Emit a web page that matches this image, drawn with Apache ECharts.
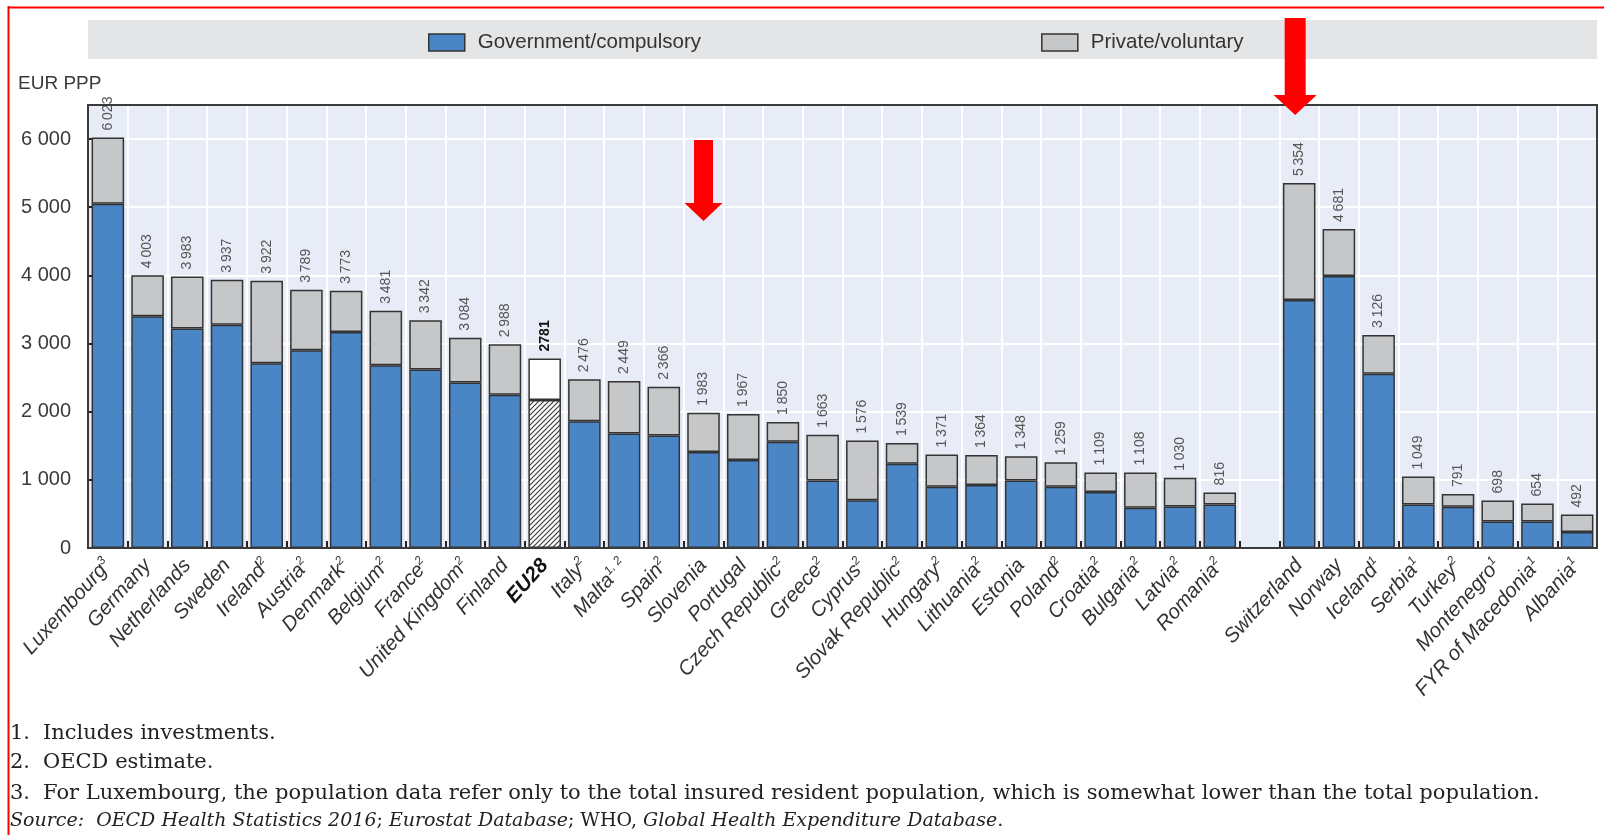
<!DOCTYPE html>
<html>
<head>
<meta charset="utf-8">
<script src="https://cdn.jsdelivr.net/npm/echarts@6/dist/echarts.min.js"></script>
<style>
  html, body { margin: 0; padding: 0; background: #ffffff; }
  #chart { width: 1604px; height: 835px; }
</style>
</head>
<body>
<div id="chart"></div>
<script>
// Countries in display order; the empty entry separates EU members from the others.
const countries = [
  'Luxembourg', 'Germany', 'Netherlands', 'Sweden', 'Ireland', 'Austria', 'Denmark',
  'Belgium', 'France', 'United Kingdom', 'Finland', 'EU28', 'Italy', 'Malta', 'Spain',
  'Slovenia', 'Portugal', 'Czech Republic', 'Greece', 'Cyprus', 'Slovak Republic',
  'Hungary', 'Lithuania', 'Estonia', 'Poland', 'Croatia', 'Bulgaria', 'Latvia', 'Romania',
  '',
  'Switzerland', 'Norway', 'Iceland', 'Serbia', 'Turkey', 'Montenegro',
  'FYR of Macedonia', 'Albania'
];

// Footnote markers attached to each country name.
const notes = [
  '3', '', '', '', '2', '2', '2',
  '2', '2', '2', '', '', '2', '1, 2', '2',
  '', '', '2', '2', '2', '2',
  '2', '2', '', '2', '2', '2', '2', '2',
  '',
  '', '', '1', '1', '2', '1',
  '1', '1'
];

// Total health spending per capita (EUR PPP).
const totalSpending = [
  6023, 4003, 3983, 3937, 3922, 3789, 3773,
  3481, 3342, 3084, 2988, 2781, 2476, 2449, 2366,
  1983, 1967, 1850, 1663, 1576, 1539,
  1371, 1364, 1348, 1259, 1109, 1108, 1030, 816,
  null,
  5354, 4681, 3126, 1049, 791, 698,
  654, 492
];

// Government / compulsory part of the spending.
const governmentSpending = [
  5050, 3400, 3220, 3275, 2710, 2900, 3170,
  2680, 2620, 2430, 2250, 2170, 1860, 1680, 1650,
  1410, 1290, 1560, 990, 700, 1235,
  900, 925, 990, 900, 820, 590, 610, 640,
  null,
  3640, 3990, 2555, 640, 605, 390,
  390, 235
];

const seriesNames = ['Government/compulsory', 'Private/voluntary'];
const yMin = 0, yMax = 6500, yStep = 1000;
const averageLabel = 'EU28';

const footnotes = [
  ['1.', 'Includes investments.'],
  ['2.', 'OECD estimate.'],
  ['3.', 'For Luxembourg, the population data refer only to the total insured resident population, which is somewhat lower than the total population.']
];

const SANS = 'Liberation Sans, Arial, sans-serif';
const SERIF = 'DejaVu Serif, serif';

// Plot area
const PLOT = { left: 88, top: 105, width: 1509, height: 443 };

function thousands(n) {
  if (n == null) return '';
  if (n < 1000) return String(n);
  return Math.floor(n / 1000) + '\u2009' + String(n % 1000).padStart(3, '0');
}

// Diagonal hatching used for the EU average bar.
function makeHatch() {
  const s = 5;
  const c = document.createElement('canvas');
  c.width = s; c.height = s;
  const g = c.getContext('2d');
  g.fillStyle = '#ffffff';
  g.fillRect(0, 0, s, s);
  g.strokeStyle = '#3c3c3c';
  g.lineWidth = 1.2;
  g.beginPath();
  g.moveTo(-1, s + 1); g.lineTo(s + 1, -1);
  g.moveTo(-1, 1); g.lineTo(1, -1);
  g.moveTo(s - 1, s + 1); g.lineTo(s + 1, s - 1);
  g.stroke();
  return c;
}
const hatch = { image: makeHatch(), repeat: 'repeat' };

const euIndex = countries.indexOf(averageLabel);

const govData = governmentSpending.map((v, i) =>
  i === euIndex ? { value: v, itemStyle: { color: hatch } } : v);

const privData = totalSpending.map((t, i) => {
  if (t == null) return null;
  const v = t - governmentSpending[i];
  if (i === euIndex) {
    return { value: v, itemStyle: { color: '#ffffff' },
             label: { fontWeight: 'bold', color: '#111111' } };
  }
  return v;
});

const chart = echarts.init(document.getElementById('chart'), null, { renderer: 'canvas' });

const barBorder = { borderColor: '#333333', borderWidth: 1.5 };
const LABEL_SIZE = 20.5;

const option = {
  animation: false,
  backgroundColor: '#ffffff',
  grid: {
    left: PLOT.left, top: PLOT.top,
    right: 1604 - PLOT.left - PLOT.width, bottom: 835 - PLOT.top - PLOT.height,
    show: true, backgroundColor: '#e8ecf6', borderWidth: 0
  },
  legend: {
    data: seriesNames,
    left: 428, top: 32, padding: 0, z: 5,
    icon: 'rect', itemWidth: 36, itemHeight: 17, itemGap: 340,
    itemStyle: { borderColor: '#333333', borderWidth: 1.5 },
    textStyle: { fontFamily: SANS, fontSize: 20.5, color: '#333333', padding: [0, 0, 0, 8] },
    selectedMode: false
  },
  xAxis: {
    type: 'category',
    data: countries,
    axisLine: { lineStyle: { color: '#333333', width: 2 } },
    axisTick: { show: true, inside: true, length: 7, interval: 0,
                lineStyle: { color: '#222222', width: 2 } },
    splitLine: { show: true, interval: 0, lineStyle: { color: '#ffffff', width: 2 } },
    axisLabel: {
      interval: 0, rotate: 48, margin: 14,
      color: '#333333', fontFamily: SANS, fontStyle: 'italic', fontSize: LABEL_SIZE,
      formatter: (v, i) => {
        if (!v) return '';
        if (v === averageLabel) return '{b|' + v + '}';
        return notes[i] ? '{n|' + v + '}{s|' + notes[i] + '}' : '{n|' + v + '}';
      },
      rich: {
        n: { fontFamily: SANS, fontStyle: 'italic', fontSize: LABEL_SIZE, color: '#333333', lineHeight: 23 },
        s: { fontFamily: SANS, fontStyle: 'italic', fontSize: 12, color: '#333333', verticalAlign: 'top', lineHeight: 23 },
        b: { fontFamily: SANS, fontStyle: 'italic', fontWeight: 'bold', fontSize: LABEL_SIZE, color: '#111111', lineHeight: 23 }
      }
    }
  },
  yAxis: {
    type: 'value',
    min: yMin, max: yMax, interval: yStep,
    axisLine: { show: true, lineStyle: { color: '#333333', width: 2 } },
    axisTick: { show: true, inside: true, length: 6, lineStyle: { color: '#222222', width: 2 } },
    splitLine: { show: true, lineStyle: { color: '#ffffff', width: 2 } },
    axisLabel: {
      margin: 17, showMaxLabel: false,
      color: '#3a3a3a', fontFamily: SANS, fontSize: 20,
      formatter: v => (v % yStep === 0 ? thousands(v).replace('\u2009', ' ') : '')
    }
  },
  series: [
    {
      name: seriesNames[0], type: 'bar', stack: 'spend',
      barCategoryGap: '18%',
      itemStyle: Object.assign({ color: '#4a86c6' }, barBorder),
      data: govData
    },
    {
      name: seriesNames[1], type: 'bar', stack: 'spend',
      barCategoryGap: '18%',
      itemStyle: Object.assign({ color: '#c6c7c9' }, barBorder),
      label: {
        show: true, position: 'top', rotate: 90,
        align: 'left', verticalAlign: 'middle', distance: 7,
        fontFamily: SANS, fontSize: 14, color: '#555555',
        formatter: p => {
          const t = totalSpending[p.dataIndex];
          return p.dataIndex === euIndex ? String(t) : thousands(t);
        }
      },
      data: privData
    }
  ]
};

chart.setOption(option);

// Annotation arrows over Slovenia and Switzerland, plus band, frame and notes.
function arrow(cx, top, neck, tip, shaftHalf, headHalf) {
  return {
    type: 'polygon', z: 20,
    shape: { points: [
      [cx - shaftHalf, top], [cx + shaftHalf, top], [cx + shaftHalf, neck],
      [cx + headHalf, neck], [cx, tip], [cx - headHalf, neck], [cx - shaftHalf, neck]
    ] },
    style: { fill: '#ff0000' }
  };
}

const xSlovenia = chart.convertToPixel({ xAxisIndex: 0 }, countries.indexOf('Slovenia'));
const xSwiss = chart.convertToPixel({ xAxisIndex: 0 }, countries.indexOf('Switzerland'));

const graphics = [
  { type: 'rect', z: 0, shape: { x: PLOT.left, y: 20, width: PLOT.width, height: 39 }, style: { fill: '#e4e5e7' } },
  { type: 'rect', z: 15, shape: { x: PLOT.left, y: PLOT.top, width: PLOT.width, height: PLOT.height },
    style: { fill: 'none', stroke: '#3a3a3a', lineWidth: 2 } },
  { type: 'text', z: 5, x: 18, y: 84, style: { text: 'EUR PPP', font: '19px ' + SANS, fill: '#3a3a3a', verticalAlign: 'middle' } },
  arrow(xSlovenia, 140, 203, 221, 9.5, 19),
  arrow(xSwiss - 4, 18, 95, 115, 10.5, 21.5),
  { type: 'line', z: 30, shape: { x1: 8.5, y1: 6, x2: 8.5, y2: 835 }, style: { stroke: '#ff0000', lineWidth: 2 } },
  { type: 'line', z: 30, shape: { x1: 8, y1: 7.5, x2: 1604, y2: 7.5 }, style: { stroke: '#ff0000', lineWidth: 2 } }
];

const noteY = [734, 763, 794];
footnotes.forEach((f, i) => {
  graphics.push({ type: 'text', z: 5, x: 10, y: noteY[i],
    style: { text: f[0], font: '21px ' + SERIF, fill: '#222222', verticalAlign: 'middle' } });
  graphics.push({ type: 'text', z: 5, x: 43, y: noteY[i],
    style: { text: f[1], font: '21px ' + SERIF, fill: '#222222', verticalAlign: 'middle' } });
});
graphics.push({
  type: 'text', z: 5, x: 10, y: 821,
  style: {
    text: '{i|Source:}  {i|OECD Health Statistics 2016}{r|; }{i|Eurostat Database}{r|; WHO, }{i|Global Health Expenditure Database}{r|.}',
    verticalAlign: 'middle',
    rich: {
      i: { font: 'italic 19px ' + SERIF, fill: '#222222' },
      r: { font: '19px ' + SERIF, fill: '#222222' }
    },
    font: 'italic 19px ' + SERIF, fill: '#222222'
  }
});

chart.setOption({ graphic: graphics });
</script>
</body>
</html>
